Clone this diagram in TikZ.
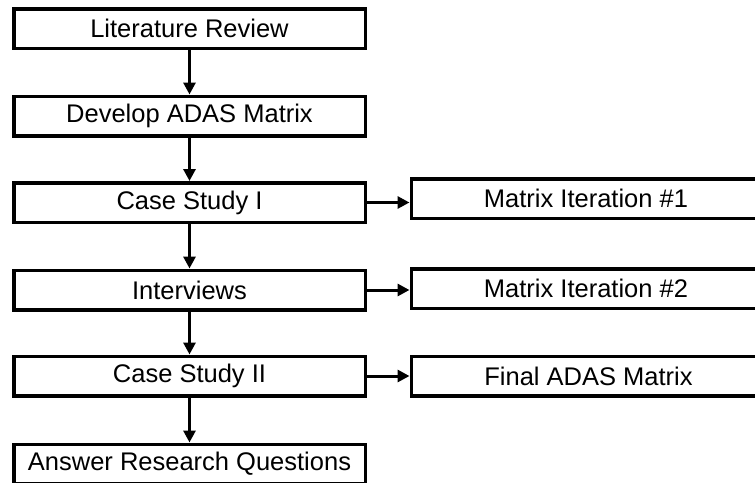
\documentclass[tikz,border=0pt]{standalone}
\usepackage{fontspec}
\setmainfont{Liberation Sans}
\usetikzlibrary{arrows.meta}
\begin{document}
\begin{tikzpicture}[x=1pt,y=-1pt,
  box/.style={draw=black,line width=3.5pt,fill=white,minimum height=39.5pt,inner sep=0pt,
    font=\fontsize{25.5}{30}\selectfont},
  lbox/.style={box,minimum width=351.5pt},
  rbox/.style={box,minimum width=354.5pt},
  conn/.style={line width=3pt,-{Triangle[length=12pt,width=12pt]}}]
\useasboundingbox (0,0) rectangle (755,482);
\clip (0,0) rectangle (755,482);
\node[lbox] (b1) at (189.5,28.5) {Literature Review};
\node[lbox] (b2) at (189.5,116) {Develop ADAS Matrix};
\node[lbox] (b3) at (189.5,202.5) {Case Study I};
\node[lbox] (b4) at (189.5,290) {Interviews};
\node[lbox] (b5) at (189.5,376) {Case Study II};
\node[lbox] (b6) at (189.5,464) {Answer Research Questions};
\node[rbox] (r1) at (588.5,198.5) {\hspace*{-5pt}Matrix Iteration \#1};
\node[rbox] (r2) at (588.5,288.5) {\hspace*{-5pt}Matrix Iteration \#2};
\node[rbox] (r3) at (588.5,376) {Final ADAS Matrix};
\draw[conn] (b1) -- (b2);
\draw[conn] (b2) -- (b3);
\draw[conn] (b3) -- (b4);
\draw[conn] (b4) -- (b5);
\draw[conn] (b5) -- (b6);
\draw[conn] (b3.east) -- (b3.east -| r1.west);
\draw[conn] (b4.east) -- (b4.east -| r2.west);
\draw[conn] (b5.east) -- (b5.east -| r3.west);
\end{tikzpicture}
\end{document}
